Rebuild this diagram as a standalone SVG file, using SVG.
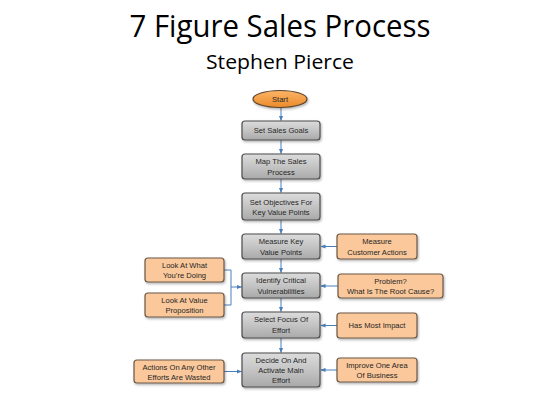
<svg xmlns="http://www.w3.org/2000/svg" width="560" height="420" viewBox="0 0 560 420">
<defs>
<linearGradient id="gGray" x1="0" y1="0" x2="0" y2="1">
<stop offset="0" stop-color="#dcdcdc"/>
<stop offset="0.5" stop-color="#c4c4c4"/>
<stop offset="1" stop-color="#a9a9a9"/>
</linearGradient>
<linearGradient id="gStart" x1="0" y1="0" x2="0" y2="1">
<stop offset="0" stop-color="#fbb567"/>
<stop offset="1" stop-color="#ec8a2a"/>
</linearGradient>
<filter id="sh" x="-10%" y="-20%" width="130%" height="160%">
<feDropShadow dx="1" dy="1.5" stdDeviation="1" flood-color="#000" flood-opacity="0.3"/>
</filter>
<marker id="ah" viewBox="0 0 6 6" refX="5.5" refY="3" markerWidth="5" markerHeight="5" orient="auto" markerUnits="userSpaceOnUse">
<path d="M0,0.5 L6,3 L0,5.5 Z" fill="#4a7ebb"/>
</marker>
</defs>
<style>
.main{fill:url(#gGray);stroke:#4d4d4d;stroke-width:1.2;filter:url(#sh)}
.side{fill:#fac89b;stroke:#6b5846;stroke-width:1.2;filter:url(#sh)}
.t{font-family:"Liberation Sans",Arial,sans-serif;font-size:7.6px;fill:#262626;text-anchor:middle}
.c{fill:none;stroke:#4a7ebb;stroke-width:1}
.ar{marker-end:url(#ah)}
</style>
<rect width="560" height="420" fill="#ffffff"/>
<text x="280" y="37" font-family="'Open Sans','Liberation Sans',sans-serif" font-size="31" fill="#000" text-anchor="middle" textLength="301" lengthAdjust="spacingAndGlyphs">7 Figure Sales Process</text>
<text x="280" y="69" font-family="'Open Sans','Liberation Sans',sans-serif" font-size="20" fill="#000" text-anchor="middle" textLength="148" lengthAdjust="spacingAndGlyphs">Stephen Pierce</text>

<g id="connectors">
<path class="c ar" d="M281,108 V120.5"/>
<path class="c ar" d="M281,140 V153.5"/>
<path class="c ar" d="M281,179 V192.5"/>
<path class="c ar" d="M281,220 V233.5"/>
<path class="c ar" d="M281,259 V272.5"/>
<path class="c ar" d="M281,298 V311.5"/>
<path class="c ar" d="M281,338 V352.5"/>
<path class="c ar" d="M337,246.5 H321"/>
<path class="c ar" d="M338,286 H321"/>
<path class="c ar" d="M337,325.5 H321"/>
<path class="c ar" d="M337,370 H321"/>
<path class="c ar" d="M224,371.5 H241.5"/>
<path class="c" d="M224,270 H231 V305 H224"/>
<path class="c ar" d="M231,287 H241.5"/>
</g>

<g id="start">
<ellipse cx="280" cy="99" rx="27" ry="8.5" fill="url(#gStart)" stroke="#5a4530" stroke-width="1.2" filter="url(#sh)"/>
<text class="t" x="280" y="101.8">Start</text>
</g>
<g id="set-sales-goals">
<rect class="main" x="242" y="121" width="78" height="19" rx="3"/>
<text class="t" x="281" y="133.2">Set Sales Goals</text>
</g>
<g id="map-sales-process">
<rect class="main" x="242" y="154" width="78" height="25" rx="3"/>
<text class="t" x="281" y="164">Map The Sales</text>
<text class="t" x="281" y="174.5">Process</text>
</g>
<g id="set-objectives">
<rect class="main" x="242" y="193" width="78" height="27" rx="3"/>
<text class="t" x="281" y="204.5">Set Objectives For</text>
<text class="t" x="281" y="215">Key Value Points</text>
</g>
<g id="measure-key">
<rect class="main" x="242" y="234" width="78" height="25" rx="3"/>
<text class="t" x="281" y="244">Measure Key</text>
<text class="t" x="281" y="254.5">Value Points</text>
</g>
<g id="identify-critical">
<rect class="main" x="242" y="273" width="78" height="25" rx="3"/>
<text class="t" x="281" y="283">Identify Critical</text>
<text class="t" x="281" y="293.5">Vulnerabilities</text>
</g>
<g id="select-focus">
<rect class="main" x="242" y="312" width="78" height="26" rx="3"/>
<text class="t" x="281" y="322">Select Focus Of</text>
<text class="t" x="281" y="332.5">Effort</text>
</g>
<g id="decide-activate">
<rect class="main" x="242" y="353" width="78" height="34" rx="3"/>
<text class="t" x="281" y="363">Decide On And</text>
<text class="t" x="281" y="373">Activate Main</text>
<text class="t" x="281" y="383">Effort</text>
</g>

<g id="measure-customer">
<rect class="side" x="337" y="234" width="80" height="25" rx="3"/>
<text class="t" x="377" y="244">Measure</text>
<text class="t" x="377" y="254.5">Customer Actions</text>
</g>
<g id="problem-root-cause">
<rect class="side" x="338" y="274" width="105" height="24" rx="3"/>
<text class="t" x="390.5" y="284">Problem?</text>
<text class="t" x="390.5" y="294">What Is The Root Cause?</text>
</g>
<g id="has-most-impact">
<rect class="side" x="337" y="313" width="80" height="25" rx="3"/>
<text class="t" x="377" y="328.3">Has Most Impact</text>
</g>
<g id="improve-one-area">
<rect class="side" x="337" y="358" width="80" height="24" rx="3"/>
<text class="t" x="377" y="368">Improve One Area</text>
<text class="t" x="377" y="378">Of Business</text>
</g>
<g id="look-what-doing">
<rect class="side" x="145" y="258" width="79" height="24" rx="3"/>
<text class="t" x="184.5" y="268">Look At What</text>
<text class="t" x="184.5" y="278">You’re Doing</text>
</g>
<g id="look-value-proposition">
<rect class="side" x="145" y="293" width="79" height="24" rx="3"/>
<text class="t" x="184.5" y="303">Look At Value</text>
<text class="t" x="184.5" y="313">Proposition</text>
</g>
<g id="actions-wasted">
<rect class="side" x="134" y="360" width="90" height="23" rx="3"/>
<text class="t" x="179" y="369.5">Actions On Any Other</text>
<text class="t" x="179" y="379.5">Efforts Are Wasted</text>
</g>
</svg>
